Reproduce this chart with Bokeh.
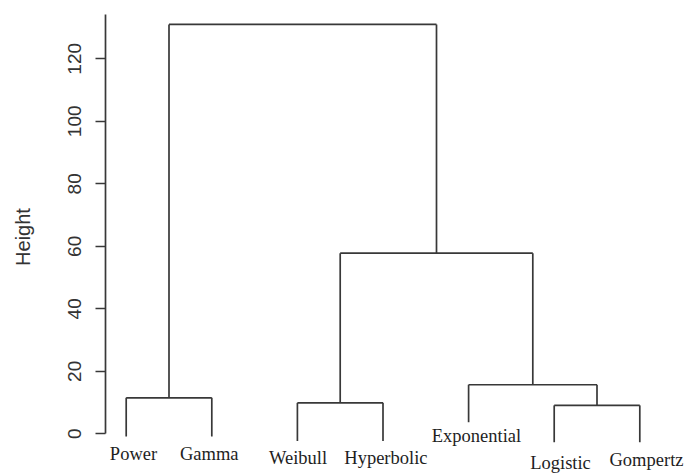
from bokeh.plotting import figure
from bokeh.models import ColumnDataSource, FixedTicker, Range1d
from bokeh.embed import file_html
from bokeh.resources import INLINE
from bokeh.core.properties import value

# ---- data ----
leaf_names = ["Power", "Gamma", "Weibull", "Hyperbolic", "Exponential", "Logistic", "Gompertz"]
leaf_bottoms = [-0.9, -0.9, -2.3, -2.3, 3.7, -2.7, -2.7]
# R-style merge matrix: negative = leaf (1-based), positive = earlier merge step
merge_pairs = [(-6, -7), (-3, -4), (-1, -2), (-5, 1), (2, 4), (3, 5)]
merge_heights = [9.1, 9.9, 11.5, 15.7, 57.8, 131.0]
y_ticks = [0, 20, 40, 60, 80, 100, 120]

# label nudges in screen pixels (style only)
label_dx = [7.3, -2.6, 0.6, 2.9, 7.9, 6.3, 6.7]
label_dy = [17, 17, 17.5, 17.5, 14, 20.5, 18]

# ---- build the segments ----
n = len(leaf_names)
node_x, node_h = {}, {}
for i in range(n):
    node_x[-(i + 1)] = i + 1
    node_h[-(i + 1)] = leaf_bottoms[i]

x0, y0, x1, y1 = [], [], [], []
for k, (a, b) in enumerate(merge_pairs, start=1):
    h = merge_heights[k - 1]
    xa, xb = node_x[a], node_x[b]
    x0.append(xa); x1.append(xb); y0.append(h); y1.append(h)
    for c in (a, b):
        x0.append(node_x[c]); x1.append(node_x[c]); y0.append(node_h[c]); y1.append(h)
    node_x[k] = (xa + xb) / 2.0
    node_h[k] = h

seg_src = ColumnDataSource(dict(x0=x0, y0=y0, x1=x1, y1=y1))
lab_src = ColumnDataSource(dict(
    x=[i + 1 for i in range(n)], y=leaf_bottoms, text=leaf_names,
    dx=label_dx, dy=label_dy))

W, H = 684, 473
left_border = 105
px_per_leaf = 85.6
px_per_unit = 3.125
x_start = 1 - (125.7 - left_border) / px_per_leaf
x_end = x_start + (W - left_border) / px_per_leaf
y_end = 433.3 / px_per_unit
y_start = y_end - H / px_per_unit

p = figure(width=W, height=H, output_backend="svg", toolbar_location=None,
           x_range=Range1d(x_start, x_end), y_range=Range1d(y_start, y_end),
           x_axis_location=None, min_border_left=left_border,
           min_border_right=0, min_border_top=0, min_border_bottom=0)
p.outline_line_color = None
p.grid.visible = False
p.background_fill_color = "white"
p.border_fill_color = "white"

line_col = "#383838"
p.segment(x0="x0", y0="y0", x1="x1", y1="y1", source=seg_src,
          line_color=line_col, line_width=1.7)

p.text(x="x", y="y", text="text", x_offset="dx", y_offset="dy", source=lab_src,
       text_font=value("Liberation Serif"), text_font_size="18.5px",
       text_align="center", text_baseline="alphabetic", text_color="#1e1e1e")

ax = p.yaxis[0]
ax.ticker = FixedTicker(ticks=y_ticks)
ax.bounds = (0, 134.3)
ax.axis_label = "Height"
ax.axis_label_text_font = "Liberation Sans"
ax.axis_label_text_font_size = "20px"
ax.axis_label_text_font_style = "normal"
ax.axis_label_text_color = "#333333"
ax.axis_label_standoff = 32
ax.major_label_text_font = "Liberation Sans"
ax.major_label_text_font_size = "19px"
ax.major_label_text_color = "#333333"
ax.major_label_orientation = "vertical"
ax.major_label_standoff = 14
ax.major_tick_in = 0
ax.major_tick_out = 10
ax.minor_tick_line_color = None
ax.axis_line_color = line_col
ax.axis_line_width = 1.7
ax.major_tick_line_color = line_col
ax.major_tick_line_width = 1.7

open("out.html", "w").write(file_html(p, INLINE))
